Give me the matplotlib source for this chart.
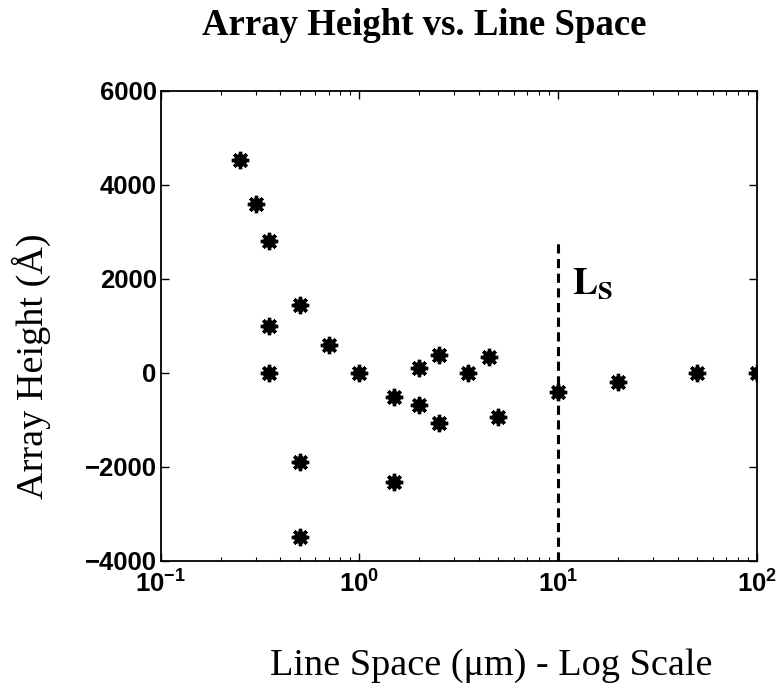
import numpy as np
import matplotlib
matplotlib.use("Agg")
import matplotlib.pyplot as plt

# line spacing (um) and measured array height (Angstrom)
line_space = [0.25, 0.3, 0.35, 0.35, 0.35, 0.5, 0.5, 0.5, 0.7, 1.0,
              1.5, 1.5, 2.0, 2.0, 2.5, 2.5, 3.5, 4.5, 5.0, 10, 20, 50, 100]
array_height = [4530, 3600, 2800, 1000, 0, 1440, -1900, -3500, 600, 0,
                -520, -2320, 100, -690, 380, -1060, 0, 330, -950, -420, -200, 0, 0]

ls_value = 10
ls_top = 2780

plt.rcParams['mathtext.fontset'] = 'stix'
plt.rcParams['mathtext.default'] = 'regular'

fig = plt.figure(figsize=(7.77, 6.88), dpi=100)
ax = fig.add_axes([0.207, 0.185, 0.767, 0.683])

# asterisk markers: solid core plus spokes
ax.plot(line_space, array_height, linestyle='none', marker='o',
        markersize=9.5, color='black', markeredgewidth=0)
ax.plot(line_space, array_height, linestyle='none', marker=(8, 2, 0),
        markersize=12.5, markeredgewidth=2.4, color='black')
ax.plot([ls_value, ls_value], [-4000, ls_top], color='black', lw=2.2,
        dashes=(3.0, 1.8))
ax.text(11.8, 1680, r'$\mathbf{L_S}$', fontsize=27, color='black',
        va='baseline')

ax.set_xscale('log')
ax.set_xlim(0.1, 100)
ax.set_ylim(-4000, 6000)
ax.set_yticks(np.arange(-4000, 6001, 2000))

for s in ax.spines.values():
    s.set_linewidth(1.3)
ax.tick_params(which='both', direction='in', top=True, right=True,
               labelsize=18.5)
ax.tick_params(axis='y', pad=3)
ax.tick_params(axis='x', pad=7)
ax.tick_params(which='major', length=6, width=1)
ax.tick_params(which='minor', length=3, width=0.8)
for lab in ax.get_xticklabels() + ax.get_yticklabels():
    lab.set_fontfamily('Liberation Sans')
    lab.set_fontweight('bold')

fig.text(0.546, 0.949, 'Array Height vs. Line Space', ha='center',
         va='baseline', family='Liberation Serif', weight='bold', fontsize=26.5)
fig.text(0.040, 0.467, 'Array Height (Å)', ha='center', va='center',
         rotation=90, family='Liberation Serif', fontsize=27.5)
fig.text(0.632, 0.019, 'Line Space (μm) - Log Scale', ha='center',
         va='baseline', family='Liberation Serif', fontsize=27.5)

fig.savefig('out.png', dpi=100)
